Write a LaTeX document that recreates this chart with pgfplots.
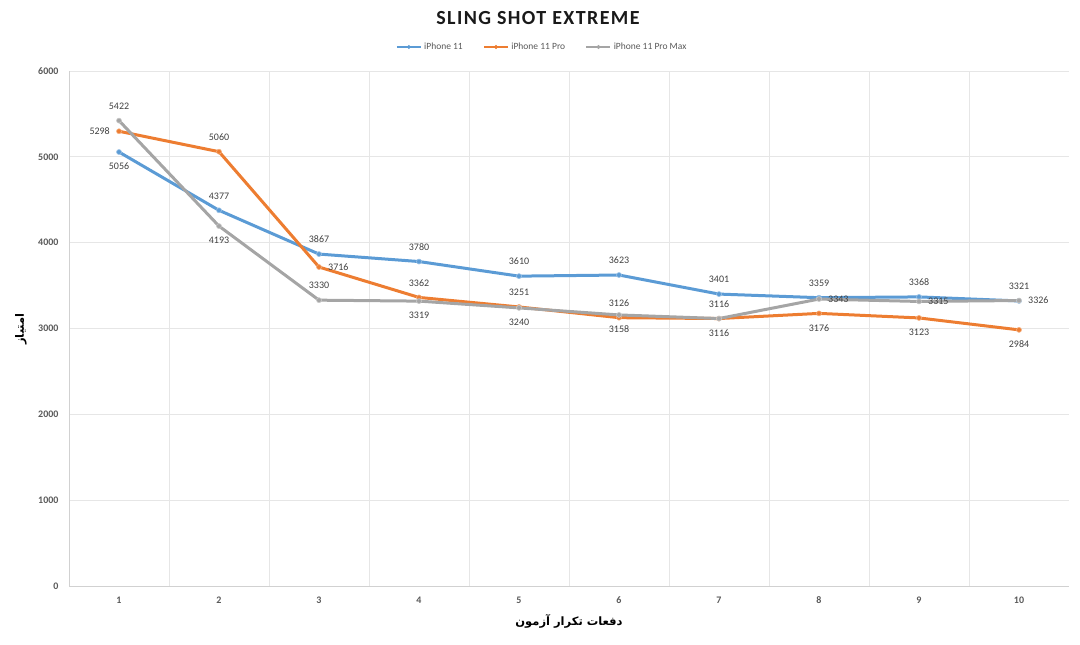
\documentclass[border=0pt]{standalone}
\usepackage{fontspec}
\setmainfont{Carlito}
\newfontfamily\arabicfont[Script=Arabic]{DejaVu Sans}
\TeXXeTstate=1
\usepackage{pgfplots}
\pgfplotsset{compat=1.18}
\definecolor{cblue}{HTML}{5B9BD5}
\definecolor{corange}{HTML}{ED7D31}
\definecolor{cgray}{HTML}{A5A5A5}
\definecolor{ctick}{HTML}{595959}
\definecolor{clab}{HTML}{404040}
\definecolor{cgrid}{HTML}{E6E6E6}

\pgfplotsset{
  ser/.style={#1, line width=3pt, mark=*, mark size=2.5pt,
    mark options={fill=#1, draw=#1!60!white, line width=0.6pt}, forget plot},
  lab/.style={draw=none, mark=none, forget plot,
    nodes near coords, point meta=y,
    every node near coord/.append style={anchor=#1, font=\fontsize{10}{12}\selectfont,
       text=clab, inner xsep=9pt, inner ysep=11pt,
       /pgf/number format/fixed, /pgf/number format/precision=0,
       /pgf/number format/1000 sep={}}},
}

\begin{document}
\begin{tikzpicture}[x=1pt,y=1pt]
\path[use as bounding box] (0,0) rectangle (1080,645);
\begin{axis}[
  at={(69pt,59pt)}, anchor=south west,
  scale only axis, width=1000pt, height=515pt,
  xmin=0.5, xmax=10.5, ymin=0, ymax=6000,
  xtick={1,...,10}, ytick={0,1000,...,6000},
  minor xtick={1.5,2.5,...,9.5},
  xminorgrids, ymajorgrids,
  minor grid style={cgrid, line width=0.8pt},
  major grid style={cgrid, line width=0.8pt},
  axis x line*=bottom, axis y line*=left,
  axis line style={draw=cgrid!80!gray, line width=0.9pt, -},
  tick style={draw=none},
  /pgf/number format/assume math mode=true,
  /pgf/number format/1000 sep={},
  ticklabel style={font=\fontsize{10}{12}\selectfont\bfseries, text=ctick},
  xticklabel style={yshift=-7pt},
  yticklabel style={xshift=-7pt},
  clip=false,
  legend style={at={(0.473,1.0466)}, anchor=center, draw=none, fill=none,
    legend columns=3, font=\fontsize{9.5}{11}\selectfont, text=ctick,
    /tikz/every even column/.append style={column sep=18pt}},
  legend image code/.code={
    \draw[#1, line width=2.6pt] (0pt,0pt) -- (24pt,0pt);
    \fill[#1] (12pt,0pt) circle (1.8pt);
  },
]
\addlegendimage{cblue}
\addlegendentry{iPhone 11}
\addlegendimage{corange}
\addlegendentry{iPhone 11 Pro}
\addlegendimage{cgray}
\addlegendentry{iPhone 11 Pro Max}
% iPhone 11
\addplot[ser=cblue] coordinates {(1,5056) (2,4377) (3,3867) (4,3780) (5,3610) (6,3623) (7,3401) (8,3359) (9,3368) (10,3321)};
% iPhone 11 Pro
\addplot[ser=corange] coordinates {(1,5298) (2,5060) (3,3716) (4,3362) (5,3251) (6,3126) (7,3116) (8,3176) (9,3123) (10,2984)};
% iPhone 11 Pro Max
\addplot[ser=cgray] coordinates {(1,5422) (2,4193) (3,3330) (4,3319) (5,3240) (6,3158) (7,3116) (8,3343) (9,3315) (10,3326)};
% data labels
\addplot[lab=north] coordinates {(1,5056)};
\addplot[lab=south] coordinates {(2,4377) (3,3867) (4,3780) (5,3610) (6,3623) (7,3401) (8,3359) (9,3368) (10,3321)};
\addplot[lab=east] coordinates {(1,5298)};
\addplot[lab=south] coordinates {(2,5060) (4,3362) (5,3251) (6,3126) (7,3116)};
\addplot[lab=west] coordinates {(3,3716)};
\addplot[lab=north] coordinates {(8,3176) (9,3123) (10,2984)};
\addplot[lab=south] coordinates {(1,5422) (3,3330)};
\addplot[lab=north] coordinates {(2,4193) (4,3319) (5,3240) (6,3158) (7,3116)};
\addplot[lab=west] coordinates {(8,3343) (9,3315) (10,3326)};
\end{axis}
\node[font=\fontsize{20}{24}\selectfont\bfseries\addfontfeatures{LetterSpace=7}, text=black!90] at (538,627) {SLING SHOT EXTREME};
\node[font=\arabicfont\bfseries\fontsize{11.5}{13}\selectfont, text=black] at (569,24) {\beginR دفعات تکرار آزمون\endR};
\node[font=\arabicfont\bfseries\fontsize{11.5}{13}\selectfont, text=black, rotate=90] at (21,316) {\beginR امتیاز\endR};
\end{tikzpicture}
\end{document}
